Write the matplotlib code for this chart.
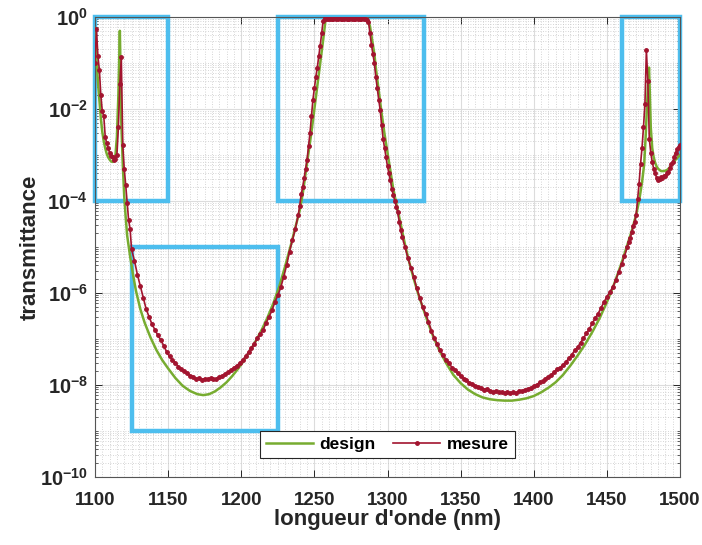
import matplotlib
matplotlib.use('Agg')
import matplotlib.pyplot as plt
from matplotlib.patches import Rectangle
from matplotlib.ticker import FixedLocator, MultipleLocator, LogLocator, NullFormatter
import numpy as np

plt.rcParams['font.family'] = ['Liberation Sans', 'DejaVu Sans']
plt.rcParams['mathtext.fontset'] = 'custom'
plt.rcParams['mathtext.rm'] = 'Liberation Sans'
plt.rcParams['mathtext.bf'] = 'Liberation Sans:bold'

# ----- DATA (log10 of transmittance) -----
design_nm = [1100, 1101, 1102, 1103, 1104, 1105, 1106, 1107, 1108, 1109, 1110, 1111,
             1112, 1113, 1114, 1115, 1116, 1116.5, 1117, 1117.5, 1118, 1119, 1120, 1121,
             1122, 1124, 1126, 1128, 1131, 1134, 1138, 1142, 1146, 1150, 1155, 1160,
             1165, 1170, 1174, 1178, 1182, 1186, 1190, 1194, 1198, 1202, 1206, 1210,
             1214, 1218, 1222, 1226, 1230, 1234, 1238, 1240, 1242, 1244, 1246, 1248,
             1250, 1252, 1254, 1256, 1257.5, 1259, 1265, 1275, 1286, 1288, 1289, 1290,
             1291, 1292, 1294, 1296, 1298, 1300, 1302, 1304, 1306, 1308, 1310, 1312,
             1315, 1318, 1321, 1325, 1330, 1335, 1340, 1345, 1350, 1355, 1360, 1365,
             1370, 1375, 1380, 1385, 1390, 1395, 1400, 1405, 1410, 1415, 1420, 1425,
             1430, 1435, 1440, 1445, 1450, 1455, 1460, 1464, 1467, 1470, 1472, 1474,
             1475.5, 1476.5, 1477.5, 1478.3, 1478.8, 1479.3, 1480, 1481, 1482, 1483,
             1484, 1485, 1487, 1489, 1491, 1493, 1495, 1497, 1500]
design_log = [-0.24, -0.9, -1.4, -1.8, -2.2, -2.5, -2.7, -2.85, -2.97, -3.05, -3.1, -3.14,
              -3.15, -3.12, -3.0, -2.6, -1.7, -1.0, -0.3, -1.2, -2.3, -3.2, -3.9, -4.35,
              -4.75, -5.2, -5.6, -5.95, -6.35, -6.65, -6.97, -7.24, -7.46, -7.64, -7.85, -8.02,
              -8.13, -8.2, -8.22, -8.2, -8.14, -8.05, -7.94, -7.8, -7.64, -7.46, -7.26, -7.04,
              -6.8, -6.53, -6.22, -5.86, -5.42, -4.95, -4.45, -4.2, -3.85, -3.4, -2.95, -2.5,
              -2.0, -1.5, -1.0, -0.5, -0.1, 0.0, 0.0, 0.0, -0.02, -0.2, -0.4, -0.6,
              -0.8, -1.1, -1.6, -2.1, -2.55, -2.95, -3.35, -3.75, -4.05, -4.35, -4.65, -4.95,
              -5.35, -5.7, -6.02, -6.4, -6.85, -7.22, -7.52, -7.78, -7.96, -8.1, -8.2, -8.27,
              -8.31, -8.33, -8.34, -8.34, -8.32, -8.29, -8.24, -8.16, -8.06, -7.94, -7.78, -7.58,
              -7.36, -7.12, -6.85, -6.55, -6.2, -5.8, -5.35, -4.95, -4.65, -4.3, -4.0, -3.6,
              -3.2, -2.6, -1.9, -1.3, -1.1, -1.6, -2.4, -2.85, -3.05, -3.17,
              -3.25, -3.3, -3.35, -3.35, -3.33, -3.27, -3.18, -3.1, -3.0]

mesure_nm = ([1100, 1101, 1102, 1103, 1104, 1105, 1106, 1107, 1108, 1109, 1110, 1111, 1112,
              1113, 1114, 1115, 1116, 1117, 1118, 1119, 1120, 1121, 1122, 1123, 1124, 1125]
             + [1127, 1129, 1131, 1133, 1135, 1137, 1139, 1141, 1143, 1145, 1147, 1149, 1151,
                1153, 1155, 1157, 1159, 1161, 1163, 1165, 1167, 1169, 1171, 1173, 1175, 1177,
                1179, 1181, 1183, 1185, 1187, 1189, 1191, 1193, 1195, 1197, 1199, 1201, 1203,
                1205, 1207, 1209, 1211, 1213, 1215, 1217, 1219, 1221, 1223, 1225, 1227, 1229,
                1231, 1233, 1235, 1237, 1239]
             + [1240, 1241, 1242, 1243, 1244, 1245, 1246, 1247, 1248, 1249, 1250, 1251, 1252,
                1253, 1254, 1255, 1256, 1257, 1258, 1259, 1260, 1261, 1262, 1263, 1264, 1265,
                1266, 1267, 1268, 1269, 1270, 1271, 1272, 1273, 1274, 1275, 1276, 1277, 1278,
                1279, 1280, 1281, 1282, 1283, 1284, 1285, 1286, 1287, 1288, 1289, 1290, 1291,
                1292, 1293, 1294, 1295, 1296, 1297, 1298, 1299, 1300, 1301, 1302, 1303, 1304,
                1305, 1306, 1307, 1308, 1309, 1310]
             + [1312, 1314, 1316, 1318, 1320, 1322, 1324, 1326, 1328, 1330, 1332, 1334, 1336,
                1338, 1340, 1342, 1344, 1346, 1348, 1350, 1352, 1354, 1356, 1358, 1360, 1362,
                1364, 1366, 1368, 1370, 1372, 1374, 1376, 1378, 1380, 1382, 1384, 1386, 1388,
                1390, 1392, 1394, 1396, 1398, 1400, 1402, 1404, 1406, 1408, 1410, 1412, 1414,
                1416, 1418, 1420, 1422, 1424, 1426, 1428, 1430, 1432, 1434, 1436, 1438, 1440,
                1442, 1444, 1446, 1448, 1450, 1452, 1454, 1456, 1458, 1460, 1462, 1464]
             + [1465, 1466, 1467, 1468, 1469, 1470, 1471, 1472, 1473, 1474, 1475, 1476, 1477,
                1478, 1479, 1480, 1481, 1482, 1483, 1484, 1485, 1486, 1487, 1488, 1489, 1490,
                1491, 1492, 1493, 1494, 1495, 1496, 1497, 1498, 1499, 1500])
mesure_log = ([-1.0, -0.25, -0.85, -1.15, -1.7, -2.05, -2.15, -2.6, -2.75, -2.85, -2.95, -3.02,
               -3.05, -3.1, -3.08, -3.0, -2.4, -1.45, -0.88, -2.78, -3.3, -3.65, -4.05, -4.42,
               -4.6, -5.05]
              + [-5.3, -5.6, -5.85, -6.1, -6.35, -6.52, -6.68, -6.8, -6.92, -7.02, -7.15, -7.28,
                 -7.38, -7.45, -7.52, -7.6, -7.66, -7.7, -7.74, -7.8, -7.82, -7.86, -7.85, -7.89,
                 -7.86, -7.88, -7.85, -7.88, -7.86, -7.82, -7.8, -7.76, -7.72, -7.68, -7.62,
                 -7.58, -7.52, -7.45, -7.38, -7.28, -7.2, -7.1, -6.98, -6.9, -6.8, -6.65, -6.52,
                 -6.38, -6.2, -6.05, -5.88, -5.65, -5.4, -5.1, -4.85, -4.6, -4.3]
              + [-4.1, -3.85, -3.7, -3.5, -3.3, -3.1, -2.8, -2.52, -2.15, -1.8, -1.55, -1.3,
                 -1.1, -0.85, -0.62, -0.35, -0.08, -0.03, -0.04, -0.05, -0.03, -0.04, -0.05,
                 -0.04, -0.03, -0.05, -0.04, -0.03, -0.04, -0.05, -0.04, -0.03, -0.04, -0.05,
                 -0.04, -0.03, -0.04, -0.05, -0.04, -0.03, -0.04, -0.05, -0.04, -0.03, -0.04,
                 -0.05, -0.06, -0.1, -0.35, -0.6, -0.8, -1.0, -1.3, -1.55, -1.8, -2.02, -2.35,
                 -2.65, -2.85, -3.05, -3.25, -3.4, -3.55, -3.75, -3.88, -4.0, -4.12, -4.25,
                 -4.45, -4.62, -4.78]
              + [-5.0, -5.25, -5.45, -5.65, -5.9, -6.1, -6.3, -6.45, -6.62, -6.82, -6.98, -7.1,
                 -7.25, -7.35, -7.45, -7.52, -7.62, -7.68, -7.74, -7.8, -7.86, -7.9, -7.95,
                 -7.98, -8.02, -8.04, -8.06, -8.1, -8.08, -8.12, -8.15, -8.13, -8.16, -8.15,
                 -8.18, -8.16, -8.18, -8.15, -8.17, -8.13, -8.14, -8.1, -8.09, -8.06, -8.02,
                 -8.0, -7.94, -7.92, -7.86, -7.82, -7.78, -7.72, -7.66, -7.62, -7.56, -7.5,
                 -7.42, -7.34, -7.25, -7.18, -7.08, -6.98, -6.88, -6.78, -6.66, -6.55, -6.45,
                 -6.32, -6.2, -6.08, -5.98, -5.88, -5.72, -5.55, -5.38, -5.2, -5.0]
              + [-4.9, -4.8, -4.68, -4.55, -4.45, -4.3, -3.95, -3.62, -3.2, -2.85, -2.4, -1.9,
                 -0.72, -1.4, -2.65, -2.95, -3.15, -3.3, -3.4, -3.5, -3.54, -3.52, -3.48, -3.5,
                 -3.45, -3.46, -3.4, -3.38, -3.28, -3.2, -3.15, -3.05, -2.95, -2.88, -2.82,
                 -2.78])

# highlighted zones: (x0, x1, y0, y1)
zones = [(1100, 1150, 1e-4, 1), (1225, 1325, 1e-4, 1),
         (1460, 1500, 1e-4, 1), (1125, 1225, 1e-9, 1e-5)]

x_ticks = [1100, 1150, 1200, 1250, 1300, 1350, 1400, 1450, 1500]
y_ticks = [1e-10, 1e-8, 1e-6, 1e-4, 1e-2, 1]

green = '#77AC30'
red = '#A2142F'
blue = '#4DBEEE'

fig = plt.figure(figsize=(7.02, 5.45), dpi=100)
ax = fig.add_axes([0.1353, 0.1248, 0.8334, 0.844])

for x0, x1, y0, y1 in zones:
    ax.add_patch(Rectangle((x0, y0), x1 - x0, y1 - y0, fill=False, edgecolor=blue,
                           linewidth=3.2, clip_on=False, zorder=2))

ax.plot(design_nm, 10.0 ** np.array(design_log), color=green, linewidth=1.8,
        label='design', zorder=3)
ax.plot(mesure_nm, 10.0 ** np.array(mesure_log), color=red, linewidth=1.2,
        marker='.', markersize=5, label='mesure', zorder=4)

ax.set_yscale('log')
ax.set_xlim(1100, 1500)
ax.set_ylim(1e-10, 1)

ax.xaxis.set_major_locator(FixedLocator(x_ticks))
ax.xaxis.set_minor_locator(MultipleLocator(5))
ax.yaxis.set_major_locator(FixedLocator(y_ticks))
ax.yaxis.set_minor_locator(LogLocator(base=10, subs=np.arange(1, 10), numticks=30))
ax.yaxis.set_minor_formatter(NullFormatter())
ax.set_xticklabels([str(t) for t in x_ticks], fontsize=13.5, fontweight='bold')
ax.set_yticklabels([r'$\mathbf{10^{%d}}$' % int(np.log10(t)) for t in y_ticks], fontsize=14.5)

ax.tick_params(which='major', direction='in', length=5, width=0.7, top=True, right=True,
               colors='#262626')
ax.tick_params(axis='x', which='major', pad=11)
ax.tick_params(axis='y', which='major', pad=5)
ax.tick_params(which='minor', direction='in', length=2.5, width=0.5, top=True, right=True,
               colors='#262626')
ax.tick_params(axis='x', which='minor', length=0)

ax.grid(True, which='major', color='#dcdcdc', linewidth=0.8, linestyle='-', zorder=0)
ax.grid(True, which='minor', color='#c8c8c8', linewidth=0.6, linestyle=(0, (1, 2)), zorder=0)
ax.set_axisbelow(True)

for s in ax.spines.values():
    s.set_color('#555555')
    s.set_linewidth(0.8)

ax.set_xlabel("longueur d'onde (nm)", fontsize=16, fontweight='bold', color='#262626', labelpad=0)
ax.set_ylabel('transmittance', fontsize=16, fontweight='bold', color='#262626', labelpad=-7)
ax.yaxis.set_label_coords(-0.092, 0.5)

leg = ax.legend(loc='lower center', bbox_to_anchor=(0.5, 0.022), ncol=2, fontsize=12.5,
                handlelength=2.7, columnspacing=1.0, handletextpad=0.4, borderpad=0.35,
                fancybox=False, framealpha=1, edgecolor='#262626')
leg.get_frame().set_linewidth(0.8)
for t in leg.get_texts():
    t.set_fontweight('bold')

fig.savefig('out.png', dpi=100)
